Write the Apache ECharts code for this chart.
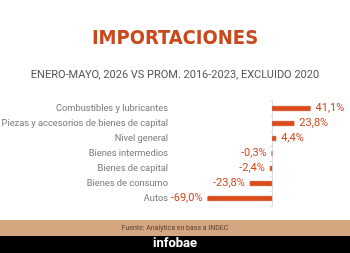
<!DOCTYPE html>
<html lang="es">
<head>
    <meta charset="UTF-8">
    <title>Importaciones</title>
    <style>
        html, body { margin: 0; padding: 0; background: #fff; }
        #app { width: 350px; height: 253px; }
    </style>
    <script src="https://cdn.jsdelivr.net/npm/echarts@6/dist/echarts.min.js"></script>
</head>
<body>
    <div id="app"></div>
    <script>
        // categorías y variación (%)
        var categorias = ['Combustibles y lubricantes', 'Piezas y accesorios de bienes de capital', 'Nivel general',
            'Bienes intermedios', 'Bienes de capital', 'Bienes de consumo', 'Autos']
        var variacion = [41.1, 23.8, 4.4, -0.3, -2.4, -23.8, -69.0]

        var naranja = '#dd4b1a'
        var mychart = echarts.init(document.getElementById('app'))

        var option = {
            backgroundColor: '#fff',
            animation: false,
            title: [{
                text: 'IMPORTACIONES',
                left: 'center',
                top: 24,
                textStyle: { fontFamily: 'DejaVu Sans Condensed', fontWeight: 'bold', fontSize: 20, color: '#c9481c' }
            }, {
                text: 'ENERO-MAYO, 2026 VS PROM. 2016-2023, EXCLUIDO 2020',
                left: 'center',
                top: 65,
                textStyle: { fontFamily: 'Roboto', fontWeight: 'normal', fontSize: 11, color: '#555' }
            }],
            grid: { left: 200, right: 33, top: 101, height: 105, outerBoundsMode: 'none' },
            xAxis: {
                type: 'value',
                min: -77,
                max: 48,
                show: false
            },
            yAxis: {
                type: 'category',
                inverse: true,
                data: categorias,
                axisLine: { show: true, onZero: true, lineStyle: { color: '#ddd', width: 1 } },
                axisTick: { show: true, length: 2, lineStyle: { color: '#ddd' } },
                // las etiquetas se miden desde el borde izquierdo de la grilla
                axisLabel: { margin: 32, fontFamily: 'Roboto', fontSize: 9.3, color: '#777' }
            },
            series: [{
                type: 'bar',
                barWidth: 5,
                data: variacion.map(function (v) {
                    return {
                        value: v,
                        label: { position: v < 0 ? 'left' : 'right' }
                    }
                }),
                itemStyle: { color: naranja, borderColor: '#b83a12', borderWidth: 0.5 },
                label: {
                    show: true,
                    distance: 5,
                    fontFamily: 'Roboto',
                    fontSize: 11,
                    color: '#d4461b',
                    formatter: function (p) {
                        return p.value.toFixed(1).replace('.', ',') + '%'
                    }
                }
            }],
            graphic: [{
                type: 'rect',
                shape: { x: 0, y: 220, width: 350, height: 16 },
                style: { fill: '#d4a780' }
            }, {
                type: 'text',
                x: 175, y: 228,
                style: { text: 'Fuente: Analytica en base a INDEC', fontFamily: 'Roboto', fontSize: 7, fill: '#5a4030', align: 'center', verticalAlign: 'middle' }
            }, {
                type: 'rect',
                shape: { x: 0, y: 236, width: 350, height: 17 },
                style: { fill: '#000' }
            }, {
                type: 'text',
                x: 175, y: 244,
                style: { text: 'infobae', fontFamily: 'Roboto', fontWeight: 'bold', fontSize: 13, fill: '#fff', align: 'center', verticalAlign: 'middle' }
            }]
        }
        mychart.setOption(option)
    </script>
</body>
</html>
